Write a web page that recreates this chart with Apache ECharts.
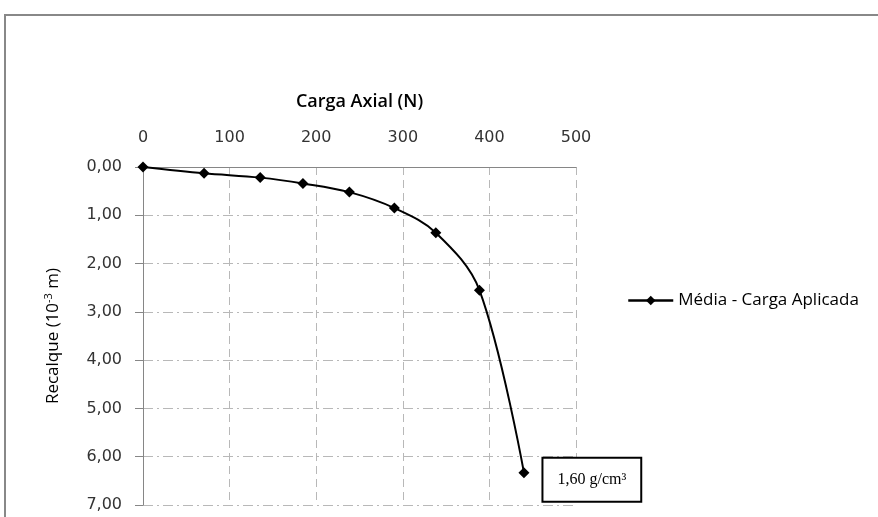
<!DOCTYPE html>
<html><head><meta charset="utf-8">
<script src="https://cdn.jsdelivr.net/npm/echarts@6/dist/echarts.min.js"></script>
<style>html,body{margin:0;padding:0;background:#fff}#c{width:878px;height:517px}</style>
</head><body><div id="c"></div>
<script>
var cargaAxial = [0, 70.5, 135.3, 184.7, 238.3, 290.3, 338.1, 388.5, 439.9];
var recalque = [0, 0.13, 0.22, 0.34, 0.52, 0.85, 1.36, 2.55, 6.33];
var seriesName = 'Média - Carga Aplicada';
var annotation = '1,60 g/cm³';
var xTicks = [0, 100, 200, 300, 400, 500];
var yTicks = [0, 1, 2, 3, 4, 5, 6, 7];

var data = cargaAxial.map(function (x, i) {
  var d = {value: [x, recalque[i]]};
  if (i === cargaAxial.length - 1) {
    d.label = {
      show: true, position: 'right', distance: 14, offset: [0, 7],
      formatter: annotation,
      fontFamily: 'Liberation Serif', fontSize: 16, color: '#000',
      backgroundColor: '#fff', borderColor: '#000', borderWidth: 2,
      padding: [13, 14, 13, 14]
    };
  }
  return d;
});

var chart = echarts.init(document.getElementById('c'));
chart.setOption({
  animation: false,
  backgroundColor: '#fff',
  graphic: [{type: 'rect', shape: {x: 5, y: 15, width: 900, height: 520},
    style: {fill: 'none', stroke: '#888', lineWidth: 2}, z: -1}],
  grid: {left: 143, top: 167, right: 302, bottom: 12},
  legend: {
    left: 622, top: 287, itemWidth: 45, itemHeight: 12, itemGap: 5,
    lineStyle: {width: 2.5},
    textStyle: {fontFamily: 'Open Sans', fontSize: 17, color: '#000'},
    data: [seriesName]
  },
  xAxis: {
    type: 'value', position: 'top', min: xTicks[0], max: xTicks[xTicks.length - 1], interval: 100,
    name: 'Carga Axial (N)', nameLocation: 'middle', nameGap: 56,
    nameTextStyle: {fontFamily: 'Open Sans', fontWeight: 600, fontSize: 18, color: '#000'},
    axisLine: {show: true, lineStyle: {color: '#868686', width: 1}},
    axisTick: {show: false},
    axisLabel: {margin: 21, fontFamily: 'DejaVu Sans', fontSize: 16, color: '#333'},
    splitLine: {show: true, lineStyle: {color: '#b8b8b8', type: [8, 5], width: 1}}
  },
  yAxis: {
    type: 'value', inverse: true, min: yTicks[0], max: yTicks[yTicks.length - 1], interval: 1,
    name: 'Recalque (10{sup|-3} m)', nameLocation: 'middle', nameGap: 80, nameRotate: 90,
    nameTextStyle: {fontFamily: 'Open Sans', fontSize: 17, color: '#000',
      rich: {sup: {fontFamily: 'Open Sans', fontSize: 11, color: '#000', verticalAlign: 'top', padding: [0, 0, 9, 0]}}},
    axisLine: {show: true, lineStyle: {color: '#868686', width: 1}},
    axisTick: {show: true, length: 8, lineStyle: {color: '#868686'}},
    axisLabel: {margin: 21, fontFamily: 'DejaVu Sans', fontSize: 16, color: '#333',
      formatter: function (v) { return v.toFixed(2).replace('.', ','); }},
    splitLine: {show: true, lineStyle: {color: '#b8b8b8', type: [10, 4, 2, 4], width: 1}}
  },
  series: [{
    name: seriesName, type: 'line', data: data, smooth: 0.35,
    symbol: 'diamond', symbolSize: 11,
    lineStyle: {color: '#000', width: 2},
    itemStyle: {color: '#000'}
  }]
});
</script></body></html>
